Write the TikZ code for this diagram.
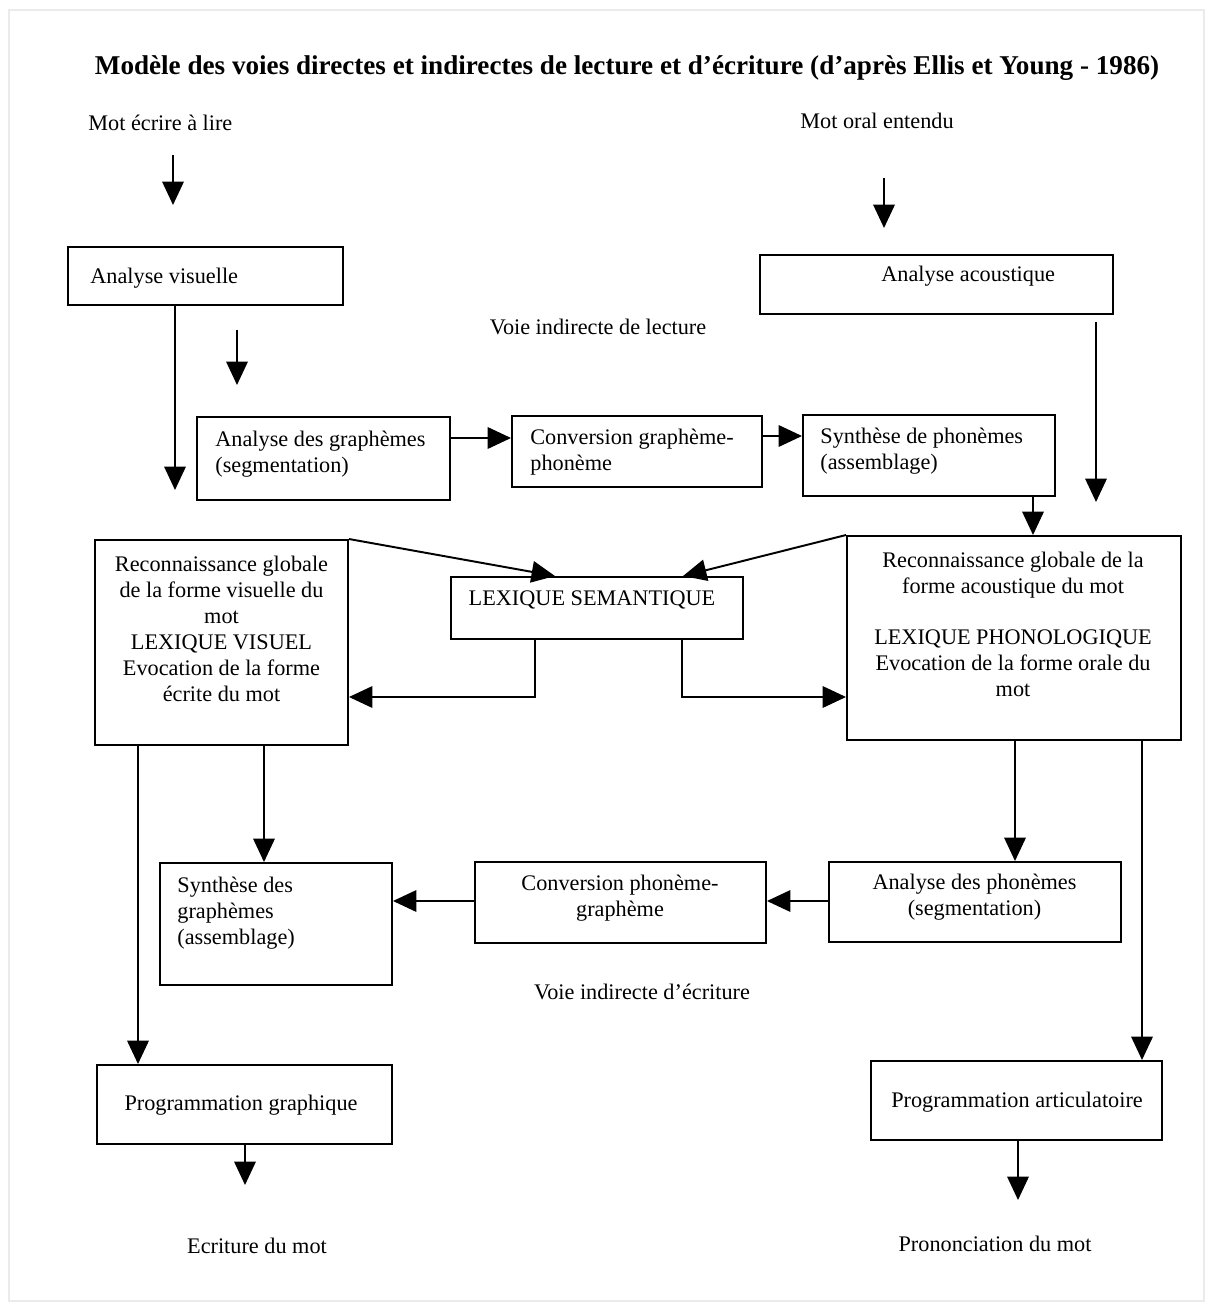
\documentclass[tikz,border=0pt]{standalone}
\usepackage{fontspec}
\setmainfont{Liberation Serif}
\usetikzlibrary{arrows.meta}
\newcommand\pxw{0.018cm}
\begin{document}
\begin{tikzpicture}[x=0.018cm,y=-0.018cm,
  box/.style={draw, line width=1pt, inner sep=0pt},
  txt/.style={inner sep=0pt, font=\fontsize{11.4}{13.3}\selectfont},
  ttl/.style={inner sep=0pt, font=\fontsize{13.9}{16}\selectfont\bfseries},
  arr/.style={-{Triangle[width=11pt,length=12pt]}, line width=1pt},
  ln/.style={line width=1pt}]
\useasboundingbox (0,0) rectangle (1212,1311);
\draw[black!8, line width=1pt] (9,10) rectangle (1204,1301);

% title and inputs
\node[ttl] (title) at (627,68) {Modèle des voies directes et indirectes de lecture et d’écriture (d’après Ellis et Young - 1986)};
\node[txt, anchor=west] (inv) at (88,123) {Mot écrire à lire};
\node[txt, anchor=west] (ina) at (800,121) {Mot oral entendu};

% boxes
\node[box, minimum width=275*\pxw, minimum height=58*\pxw] (av) at (205.5,276) {};
\node[box, minimum width=353*\pxw, minimum height=59*\pxw] (aa) at (936.5,284.5) {};
\node[box, minimum width=253*\pxw, minimum height=83*\pxw] (ag) at (323.5,458.5) {};
\node[box, minimum width=250*\pxw, minimum height=71*\pxw] (cgp) at (637,451.5) {};
\node[box, minimum width=252*\pxw, minimum height=81*\pxw] (sp) at (929,455.5) {};
\node[box, minimum width=253*\pxw, minimum height=205*\pxw] (rv) at (221.5,642.5) {};
\node[box, minimum width=292*\pxw, minimum height=62*\pxw] (ls) at (597,608) {};
\node[box, minimum width=334*\pxw, minimum height=204*\pxw] (ra) at (1014,638) {};
\node[box, minimum width=232*\pxw, minimum height=122*\pxw] (scg) at (276,924) {};
\node[box, minimum width=291*\pxw, minimum height=81*\pxw] (cpg) at (620.5,902.5) {};
\node[box, minimum width=292*\pxw, minimum height=80*\pxw] (aph) at (975,902) {};
\node[box, minimum width=295*\pxw, minimum height=79*\pxw] (pg) at (244.5,1104.5) {};
\node[box, minimum width=291*\pxw, minimum height=79*\pxw] (pa) at (1016.5,1100.5) {};

% box texts
\node[txt, anchor=west] (avt) at (90,278) {Analyse visuelle};
\node[txt, anchor=west] (aat) at (881,276) {Analyse acoustique};
\node[txt] (vil) at (598,327) {Voie indirecte de lecture};
\node[txt, anchor=west, align=left] (agt) at (215,454) {Analyse des graphèmes\\(segmentation)};
\node[txt, anchor=west, align=left] (cgpt) at (530,452) {Conversion graphème-\\phonème};
\node[txt, anchor=west, align=left] (spt) at (820,451) {Synthèse de phonèmes\\(assemblage)};
\node[txt, align=center] (rvt) at (221.5,628.5) {Reconnaissance globale\\de la forme visuelle du\\mot\\LEXIQUE VISUEL\\Evocation de la forme\\écrite du mot};
\node[txt] (lst) at (592,600) {LEXIQUE SEMANTIQUE};
\node[txt, align=center] (rat) at (1013,624.5) {Reconnaissance globale de la\\forme acoustique du mot\\[0.45cm]LEXIQUE PHONOLOGIQUE\\Evocation de la forme orale du\\mot};
\node[txt, anchor=west, align=left] (scgt) at (177,913) {Synthèse des\\graphèmes\\(assemblage)};
\node[txt, align=center] (cpgt) at (620,898.5) {Conversion phonème-\\graphème};
\node[txt, align=center] (apht) at (974.5,897) {Analyse des phonèmes\\(segmentation)};
\node[txt] (vie) at (642,992) {Voie indirecte d’écriture};
\node[txt] (pgt) at (241,1105) {Programmation graphique};
\node[txt] (pat) at (1017,1102) {Programmation articulatoire};
\node[txt] (outw) at (257,1246) {Ecriture du mot};
\node[txt] (outp) at (995,1244) {Prononciation du mot};

% free arrow ends
\coordinate (a1s) at (173,155); \coordinate (a1e) at (173,205);
\coordinate (a2s) at (884,178); \coordinate (a2e) at (884,228);
\coordinate (a3e) at (175,490);
\coordinate (a4s) at (237,330); \coordinate (a4e) at (237,385);
\coordinate (a5s) at (1096,322); \coordinate (a5e) at (1096,502);
\coordinate (e1) at (245,1185);
\coordinate (e2) at (1018,1200);

% connectors
\draw[arr] (a1s) -- (a1e);
\draw[arr] (a2s) -- (a2e);
\draw[arr] (av.south -| a3e) -- (a3e);
\draw[arr] (a4s) -- (a4e);
\draw[arr] (a5s) -- (a5e);
\draw[arr] (ag.east |- 0,438) -- (cgp.west |- 0,438);
\draw[arr] (cgp.east |- 0,436) -- (sp.west |- 0,436);
\draw[arr] (sp.south -| 1033,0) -- (ra.north -| 1033,0);
\draw[arr] (rv.north east) -- (ls.north -| 555,0);
\draw[arr] (ra.north west) -- (ls.north -| 683,0);
\draw[arr] (ls.south -| 535,0) |- (rv.east |- 0,697);
\draw[arr] (ls.south -| 682,0) |- (ra.west |- 0,697);
\draw[arr] (rv.south -| 138,0) -- (pg.north -| 138,0);
\draw[arr] (rv.south -| 264,0) -- (scg.north -| 264,0);
\draw[arr] (ra.south -| 1015,0) -- (aph.north -| 1015,0);
\draw[arr] (ra.south -| 1142,0) -- (pa.north -| 1142,0);
\draw[arr] (aph.west |- 0,901) -- (cpg.east |- 0,901);
\draw[arr] (cpg.west |- 0,901) -- (scg.east |- 0,901);
\draw[arr] (pg.south -| e1) -- (e1);
\draw[arr] (pa.south -| e2) -- (e2);
\end{tikzpicture}
\end{document}
